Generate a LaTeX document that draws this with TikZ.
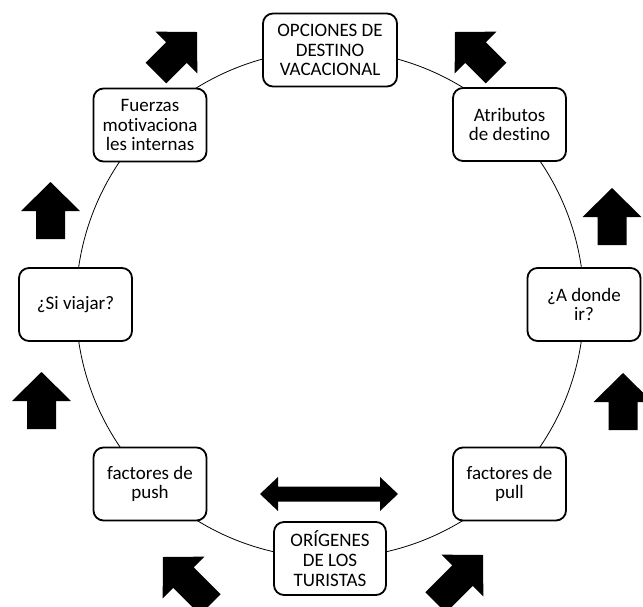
\documentclass[tikz,border=0pt]{standalone}
\usepackage{fontspec}
\setmainfont[Ligatures=NoCommon]{Carlito}
\begin{document}
\begin{tikzpicture}[x=1pt,y=-1pt,
  box/.style={draw, line width=1.8pt, rounded corners=10pt, fill=white,
    align=center, inner sep=0pt, minimum width=#1, minimum height=73pt,
    font=\fontsize{19}{19.8}\selectfont},
  box/.default=113pt,
  pics/blockarrow/.style={code={
    \fill[black] (0,0) -- (-29,29.5) -- (-29,14.5) -- (-#1,14.5) -- (-#1,-14.5)
      -- (-29,-14.5) -- (-29,-29.5) -- cycle;}},
  ring/.style={line width=0.8pt}]
\useasboundingbox (0,0) rectangle (643,606);
\begin{scope}
\clip (0,0) rectangle (643,606);
% ring
\coordinate (ctr) at (330,304);
\draw[ring] (ctr) circle[radius=254pt];
% block arrows
\pic[rotate=90]  at (50.5,182) {blockarrow=57};
\pic[rotate=90]  at (41.5,372) {blockarrow=57};
\pic[rotate=90]  at (612,188)  {blockarrow=57};
\pic[rotate=90]  at (623,373)  {blockarrow=57};
\pic[rotate=45]  at (197,32)   {blockarrow=58};
\pic[rotate=135] at (455,32)   {blockarrow=58};
\pic[rotate=135] at (163,557)  {blockarrow=67};
\pic[rotate=45]  at (483,555)  {blockarrow=67};
% double arrow
\fill[black] (260,494) -- (278,477) -- (278,486.5) -- (380,486.5) -- (380,477)
  -- (398,494) -- (380,511) -- (380,501.5) -- (278,501.5) -- (278,511) -- cycle;
\end{scope}
% boxes
\node[box=134pt] (top) at (330,50) {OPCIONES DE\\DESTINO\\VACACIONAL};
\node[box] (fuerzas) at (150,125) {Fuerzas\\motivaciona\\les internas};
\node[box] (atrib) at (509.5,124.5) {Atributos\\de destino};
\node[box] (siv) at (75.5,304.5) {¿Si viajar?};
\node[box] (adonde) at (584,304.5) {¿A donde\\ir?};
\node[box] (push) at (150,484) {factores de\\push};
\node[box] (pull) at (509.5,484) {factores de\\pull};
\node[box=112pt] (orig) at (330,558.5) {ORÍGENES\\DE LOS\\TURISTAS};
\end{tikzpicture}
\end{document}
